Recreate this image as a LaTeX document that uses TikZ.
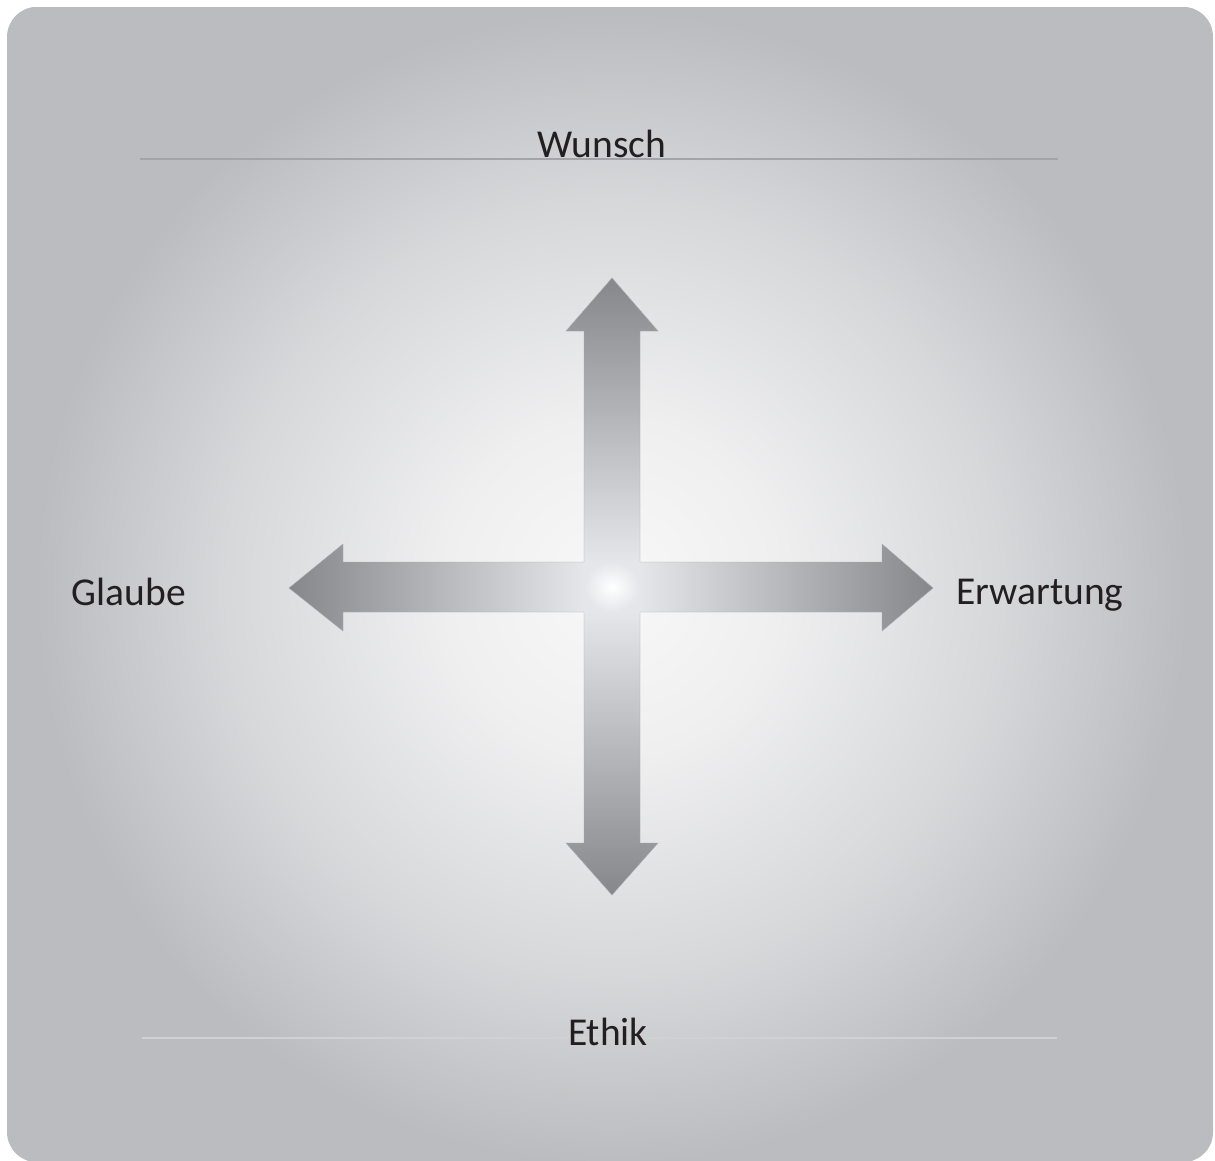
\documentclass[tikz,border=0pt]{standalone}
\usepackage{fontspec}
\setmainfont{Carlito}
\definecolor{bgout}{HTML}{BBBCBF}
\definecolor{bgmid}{HTML}{D7D8DA}
\definecolor{bgin}{HTML}{EFEFF0}
\definecolor{bgcen}{HTML}{F8F8F8}
\definecolor{ardark}{HTML}{86878A}
\definecolor{arlight}{HTML}{E4E6E9}
\definecolor{txt}{HTML}{231F20}
\definecolor{topline}{HTML}{A3A4A7}
\definecolor{botline}{HTML}{D0D1D3}
\pgfdeclareradialshading{bgshade}{\pgfpoint{0bp}{0bp}}{color(0bp)=(bgcen); color(7bp)=(bgin); color(16bp)=(bgmid); color(24bp)=(bgout); color(50bp)=(bgout)}
\tikzset{
  lbl/.style={font=\fontsize{39.5}{42}\selectfont, text=txt, inner sep=0pt, anchor=base},
  armedge/.style={draw=ardark!70, line width=0.4pt},
}
\begin{document}
\begin{tikzpicture}[x=1pt,y=-1pt]
\useasboundingbox (0,0) rectangle (1215,1160);
% background panel
\path[fill=bgout, rounded corners=30pt] (7,7) rectangle (1213,1162);
\begin{scope}
  \clip[rounded corners=30pt] (7,7) rectangle (1213,1162);
  \shade[shading=bgshade] (12,-12) rectangle (1212,1188);
\end{scope}
% lines
\draw[topline, line width=1.6pt] (140,159) -- (1058,159);
\draw[botline, line width=1.4pt] (142,1038) -- (1057,1038);
% arrows: top arm
\shade[top color=ardark, bottom color=arlight, armedge]
  (584,562) -- (584,331) -- (566,331) -- (612,278) -- (658,331) -- (640,331) -- (640,562);
% bottom arm
\shade[top color=arlight, bottom color=ardark, armedge]
  (584,612) -- (584,843) -- (566,843) -- (612,895) -- (658,843) -- (640,843) -- (640,612);
% left arm
\shade[left color=ardark, right color=arlight, armedge]
  (584,562) -- (343,562) -- (343,544) -- (289,588) -- (343,631) -- (343,612) -- (584,612);
% right arm
\shade[left color=arlight, right color=ardark, armedge]
  (640,562) -- (882,562) -- (882,544) -- (933,588) -- (882,631) -- (882,612) -- (640,612);
% centre
\shade[inner color=white, outer color=arlight] (584,562) rectangle (640,612);
% labels
\node[lbl] (wunsch) at (602,157) {Wunsch};
\node[lbl] (ethik) at (608,1045) {Ethik};
\node[lbl] (glaube) at (129,605) {Glaube};
\node[lbl] (erwartung) at (1040,604) {Erwartung};
\end{tikzpicture}
\end{document}
